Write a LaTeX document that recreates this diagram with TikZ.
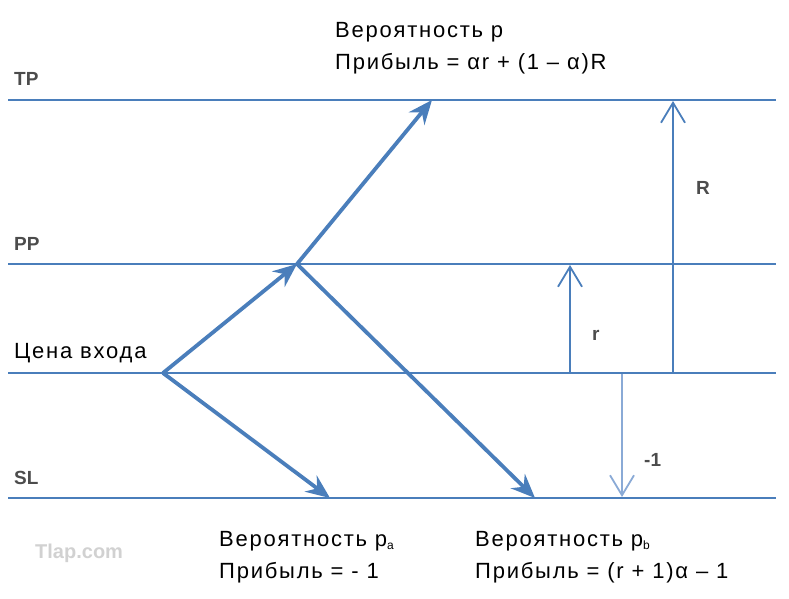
\documentclass[tikz,border=0pt]{standalone}
\usepackage{fontspec}
\setmainfont{Liberation Sans}
\newfontfamily\notefont[LetterSpace=8]{Liberation Sans}
\usepackage{xcolor}
\usetikzlibrary{
    arrows.meta,
    positioning
}
\definecolor{lineblue}{HTML}{4A7EBB}
\definecolor{paleblue}{HTML}{8AAAD6}
\tikzset{
    level/.style={
        draw=lineblue,
        line width=2.8pt
    },
    move/.style={
        -{Stealth[length=24pt,width=20pt,inset=8pt]},
        draw=lineblue,
        line width=3.8pt
    },
    gap/.style={
        -{Straight Barb[length=20pt,width=24pt]},
        draw=lineblue,
        line width=1.8pt
    },
    levellabel/.style={
        anchor=base west,
        inner sep=0pt,
        text=black!70,
        font=\fontsize{19}{19}\selectfont\bfseries
    },
    note/.style={
        anchor=base west,
        inner sep=0pt,
        align=left,
        font=\notefont\fontsize{22}{32}\selectfont
    }
}
\newcommand{\lowsub}[1]{\raisebox{-0.3ex}{\fontsize{12}{12}\selectfont #1}}

\begin{document}
\begin{tikzpicture}[x=1pt,y=-1pt]
\useasboundingbox (0,0) rectangle (789,598);

% price levels
\coordinate (tpL) at (8,100);  \coordinate (tpR) at (776,100);
\coordinate (ppL) at (8,264);  \coordinate (ppR) at (776,264);
\coordinate (enL) at (8,373);  \coordinate (enR) at (776,373);
\coordinate (slL) at (8,498);  \coordinate (slR) at (776,498);
\draw[level] (tpL) -- (tpR);
\draw[level] (ppL) -- (ppR);
\draw[level] (enL) -- (enR);
\draw[level] (slL) -- (slR);

\node[levellabel] (tp) at (14,85) {TP};
\node[levellabel] (pp) at (14,250) {PP};
\node[note] (entrylbl) at (14,358) {Цена входа};
\node[levellabel] (sl) at (14,484) {SL};

% price paths
\coordinate (entry) at (163,373);
\coordinate (partial) at (297,264);
\coordinate (hitTP) at (432,100);
\coordinate (hitSLa) at (330,498);
\coordinate (hitSLb) at (535,498);
\draw[move] (entry) -- (partial);
\draw[move] (partial) -- (hitTP);
\draw[move] (entry) -- (hitSLa);
\draw[move] (partial) -- (hitSLb);

% distances
\coordinate (rlow) at (570,373);  \coordinate (rhigh) at (570,265);
\coordinate (Rlow) at (673,373);  \coordinate (Rhigh) at (673,101);
\coordinate (llow) at (622,374);  \coordinate (lhigh) at (622,497);
\draw[gap] (rlow) -- (rhigh);
\draw[gap] (Rlow) -- (Rhigh);
\draw[gap, draw=paleblue] (llow) -- (lhigh);
\node[levellabel] (rlbl) at (592,340) {r};
\node[levellabel] (Rlbl) at (696,194) {R};
\node[levellabel] (llbl) at (644,466) {-1};

% outcomes (anchored on the last line)
\node[note] (winTP) at (335,69) {Вероятность p\\Прибыль = αr + (1 – α)R};
\node[note] (lossA) at (219,578) {Вероятность p\lowsub{a}\\Прибыль = - 1};
\node[note] (lossB) at (475,578) {Вероятность p\lowsub{b}\\Прибыль = (r + 1)α – 1};

\node[anchor=base west, inner sep=0pt, text=black!18,
      font=\fontsize{20}{20}\selectfont\bfseries] (mark) at (35,558) {Tlap.com};
\end{tikzpicture}
\end{document}
